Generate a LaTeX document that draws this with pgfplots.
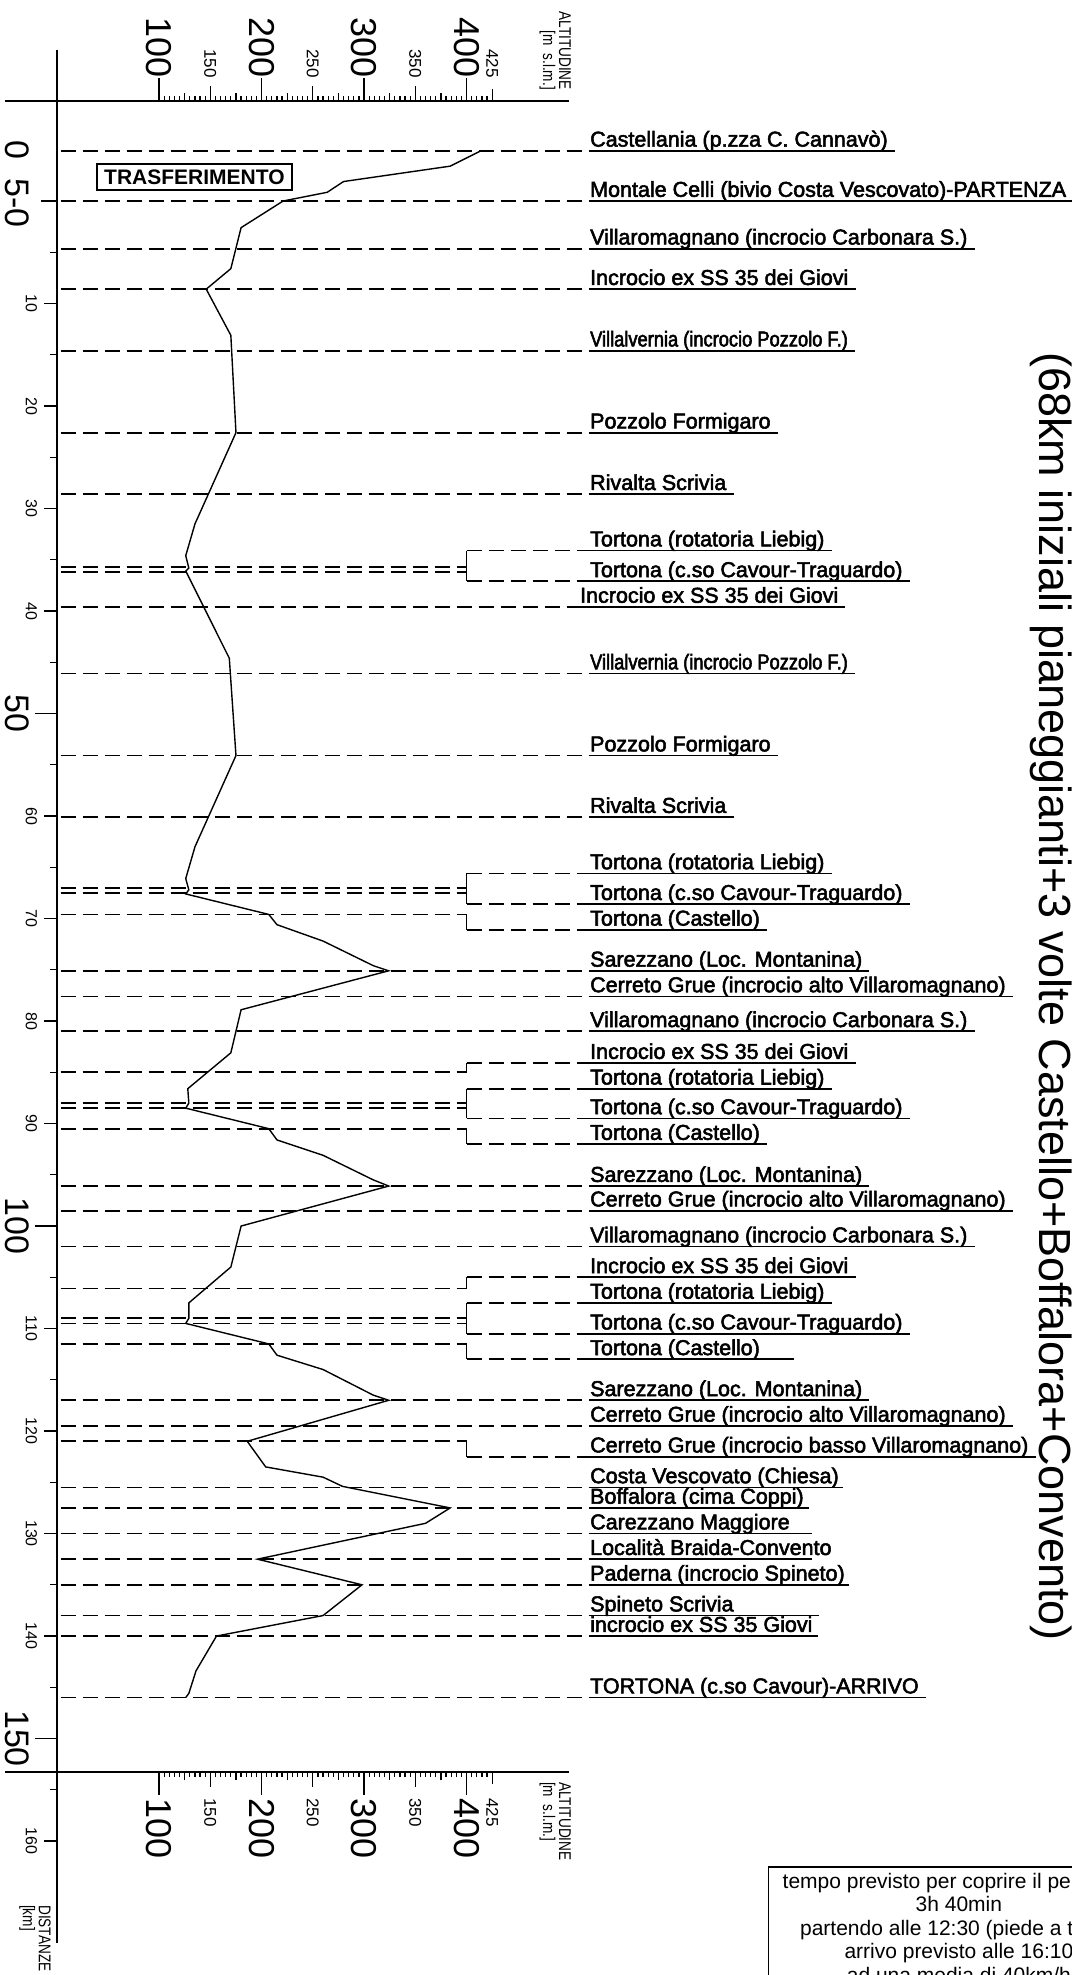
\documentclass[border=0pt]{standalone}
\usepackage{pgfplots}
\usepackage{pgfplotstable}
\pgfplotsset{compat=1.18}
\usepackage{fontspec}
\setmainfont{Liberation Sans}
\newfontfamily\labf[FakeBold=2.5]{Liberation Sans}
\newfontfamily\narrow[FakeStretch=0.85,FakeBold=2.5]{Liberation Sans}
\newfontfamily\axnarrow[FakeStretch=0.8]{Liberation Sans}

% profile: distance [km] and altitude [m s.l.m.]
\pgfplotstableread{
d alt
-4.9 414
-3.4 384
-1.9 280
-0.85 264
0 221
2.6 180
6.6 170
8.6 146
13.1 170
22.6 175
31.5 135
34.6 126
35.8 129
36.1 126
44.6 168.5
54.1 175
63.0 135
66.1 126
67.2 129
67.6 126
69.6 207
70.6 215
72.2 260
74.6 309
75.1 324
78.9 180
83.1 170
86.6 128
88.0 129
88.5 126
90.5 207
91.6 215
93.1 260
95.5 309
96.1 324
100.0 180
104.0 170
107.5 129
109.0 129
109.5 126
111.5 207
112.6 215
114.0 260
116.5 309
117.0 324
121.0 186
123.5 204
124.5 260
125.4 279
127.5 384
129.0 360
132.5 196
135.0 298
138.0 260
140.0 156
143.4 136
145.6 129
146.0 126
}\profile

\tikzset{
  dl/.style={line width=1.8pt, dash pattern=on 15pt off 7pt},
  br/.style={line width=1.3pt},
  tk/.style={line width=1.3pt},
  ax/.style={line width=2pt},
  ul/.style={line width=1.8pt},
  lab/.style={anchor=south west, inner sep=0pt, text depth=4pt,
    font=\labf\fontsize{21.5}{24}\selectfont},
  bigalt/.style={rotate=-90, inner sep=0pt, font=\fontsize{36}{36}\selectfont},
  smallalt/.style={rotate=-90, inner sep=0pt, font=\fontsize{17}{17}\selectfont},
  bigkm/.style={rotate=-90, inner sep=0pt, font=\fontsize{34}{34}\selectfont},
  smallkm/.style={rotate=-90, inner sep=0pt, font=\fontsize{16}{16}\selectfont},
  axname/.style={rotate=-90, inner sep=0pt, font=\axnarrow\fontsize{17}{16}\selectfont},
}

% \lab[extra underline]{from alt}{label alt}{km}{text}
\newcommand\lab[5][7pt]{%
  \addplot[dl] coordinates {(#2,#4) (#3,#4)};
  \node[lab] (L) at (axis cs:#3,#4) {#5};
  \draw[ul] (L.south west) -- ([xshift=#1]L.south east);
}
% ticks: \tkv{alt}{km}{length} vertical, \tkh{alt}{km}{length} horizontal
\newcommand\tkv[3]{\draw[tk] (axis cs:#1,#2) -- ([yshift=#3]axis cs:#1,#2);}
\newcommand\tkh[3]{\draw[tk] (axis cs:#1,#2) -- ([xshift=#3]axis cs:#1,#2);}

\begin{document}
\begin{tikzpicture}
\begin{axis}[
  width=1072pt, height=1975pt, scale only axis,
  xmin=-55.22, xmax=990.63,
  ymin=-19.61, ymax=173.07,
  y dir=reverse,
  hide axis, clip=false,
]
% axis lines
\draw[ax] (axis cs:-50,-9.795) -- (axis cs:500,-9.795);
\draw[ax] (axis cs:-50,153.24) -- (axis cs:500,153.24);
\draw[ax] (axis cs:0,-14.7) -- (axis cs:0,169.9);

% altitude scale, top
\pgfplotsinvokeforeach{100,105,...,425}{\tkv{#1}{-9.795}{5pt}}
\pgfplotsinvokeforeach{125,175,...,425}{\tkv{#1}{-9.795}{8pt}}
\pgfplotsinvokeforeach{150,250,350}{\tkv{#1}{-9.795}{15pt}}
\pgfplotsinvokeforeach{100,200,300,400}{\tkv{#1}{-9.795}{23pt}}
\tkv{425}{-9.795}{12pt}
\pgfplotsinvokeforeach{100,200,300,400}{\node[bigalt, anchor=east] at (axis cs:#1,-12.0) {#1};}
\pgfplotsinvokeforeach{150,250,350,425}{\node[smallalt, anchor=east] at (axis cs:#1,-12.0) {#1};}
\node[axname, anchor=north east, align=right] at (axis cs:501.9,-10.83) {ALTITUDINE\\{[}m\ \ s.l.m.]};

% altitude scale, bottom
\pgfplotsinvokeforeach{100,105,...,425}{\tkv{#1}{153.24}{-5pt}}
\pgfplotsinvokeforeach{125,175,...,425}{\tkv{#1}{153.24}{-8pt}}
\pgfplotsinvokeforeach{150,250,350}{\tkv{#1}{153.24}{-15pt}}
\pgfplotsinvokeforeach{100,200,300,400}{\tkv{#1}{153.24}{-23pt}}
\tkv{425}{153.24}{-12pt}
\pgfplotsinvokeforeach{100,200,300,400}{\node[bigalt, anchor=west] at (axis cs:#1,155.8) {#1};}
\pgfplotsinvokeforeach{150,250,350,425}{\node[smallalt, anchor=west] at (axis cs:#1,155.8) {#1};}
\node[axname, anchor=north west, align=left] at (axis cs:501.9,154.24) {ALTITUDINE\\{[}m\ \ s.l.m.]};

% distance scale
\pgfplotsinvokeforeach{5,15,...,155}{\tkh{0}{#1}{-7pt}}
\pgfplotsinvokeforeach{10,20,30,40,60,70,80,90,110,120,130,140,160}{%
  \tkh{0}{#1}{-13pt}
  \node[smallkm] at (axis cs:-24.5,#1) {#1};}
\pgfplotsinvokeforeach{50,100,150}{%
  \tkh{0}{#1}{-22pt}
  \node[bigkm] at (axis cs:-38.7,#1) {#1};}
\tkh{0}{0}{-16pt}
\node[bigkm] at (axis cs:-38.7,-5) {0};
\node[bigkm] at (axis cs:-38.7,0.2) {5-0};
\node[axname, anchor=north west, align=left] at (axis cs:-5.5,166.24) {DISTANZE\\{[}km]};

% profile
\addplot[black, line width=1.4pt, mark=none] table[x=alt, y=d] {\profile};

% places
\lab{4}{520.4}{-4.9}{Castellania (p.zza C. Cannavò)}
\lab{4}{520.4}{0}{Montale Celli (bivio Costa Vescovato)-PARTENZA}
\lab{4}{520.4}{4.65}{Villaromagnano (incrocio Carbonara S.)}
\lab{4}{520.4}{8.6}{Incrocio ex SS 35 dei Giovi}
\lab{4}{520.4}{14.6}{\narrow Villalvernia (incrocio Pozzolo F.)}
\lab{4}{520.4}{22.6}{Pozzolo Formigaro}
\lab{4}{520.4}{28.6}{Rivalta Scrivia}

\addplot[dl] coordinates {(4,35.7) (400,35.7)};
\addplot[dl] coordinates {(4,36.2) (400,36.2)};
\addplot[br] coordinates {(400,34.1) (400,37.1)};
\lab{400}{520.4}{34.1}{Tortona (rotatoria Liebig)}
\lab{400}{520.4}{37.1}{Tortona (c.so Cavour-Traguardo)}
\lab{4}{510.6}{39.6}{Incrocio ex SS 35 dei Giovi}
\lab{4}{520.4}{46.1}{\narrow Villalvernia (incrocio Pozzolo F.)}
\lab{4}{520.4}{54.1}{Pozzolo Formigaro}
\lab{4}{520.4}{60.1}{Rivalta Scrivia}

\addplot[dl] coordinates {(4,67.0) (400,67.0)};
\addplot[dl] coordinates {(4,67.5) (400,67.5)};
\addplot[br] coordinates {(400,65.6) (400,68.6)};
\lab{400}{520.4}{65.6}{Tortona (rotatoria Liebig)}
\lab{400}{520.4}{68.6}{Tortona (c.so Cavour-Traguardo)}
\addplot[dl] coordinates {(4,69.6) (400,69.6)};
\addplot[br] coordinates {(400,69.6) (400,71.1)};
\lab{400}{520.4}{71.1}{Tortona (Castello)}
\lab{4}{520.4}{75.1}{Sarezzano (Loc. Montanina)}
\lab{4}{520.4}{77.6}{Cerreto Grue (incrocio alto Villaromagnano)}
\lab{4}{520.4}{81.0}{Villaromagnano (incrocio Carbonara S.)}

\addplot[dl] coordinates {(4,85.0) (400,85.0)};
\addplot[br] coordinates {(400,85.0) (400,84.1)};
\lab{400}{520.4}{84.1}{Incrocio ex SS 35 dei Giovi}
\addplot[dl] coordinates {(4,88.0) (400,88.0)};
\addplot[dl] coordinates {(4,88.5) (400,88.5)};
\addplot[br] coordinates {(400,86.6) (400,89.5)};
\lab{400}{520.4}{86.6}{Tortona (rotatoria Liebig)}
\lab{400}{520.4}{89.5}{Tortona (c.so Cavour-Traguardo)}
\addplot[dl] coordinates {(4,90.5) (400,90.5)};
\addplot[br] coordinates {(400,90.5) (400,92.0)};
\lab{400}{520.4}{92.0}{Tortona (Castello)}
\lab{4}{520.4}{96.1}{Sarezzano (Loc. Montanina)}
\lab{4}{520.4}{98.5}{Cerreto Grue (incrocio alto Villaromagnano)}
\lab{4}{520.4}{102.0}{Villaromagnano (incrocio Carbonara S.)}

\addplot[dl] coordinates {(4,106.1) (400,106.1)};
\addplot[br] coordinates {(400,106.1) (400,105.0)};
\lab{400}{520.4}{105.0}{Incrocio ex SS 35 dei Giovi}
\addplot[dl] coordinates {(4,109.0) (400,109.0)};
\addplot[dl] coordinates {(4,109.5) (400,109.5)};
\addplot[br] coordinates {(400,107.5) (400,110.5)};
\lab{400}{520.4}{107.5}{Tortona (rotatoria Liebig)}
\lab{400}{520.4}{110.5}{Tortona (c.so Cavour-Traguardo)}
\addplot[dl] coordinates {(4,111.5) (400,111.5)};
\addplot[br] coordinates {(400,111.5) (400,113.0)};
\lab[34pt]{400}{520.4}{113.0}{Tortona (Castello)}
\lab{4}{520.4}{117.0}{Sarezzano (Loc. Montanina)}
\lab{4}{520.4}{119.5}{Cerreto Grue (incrocio alto Villaromagnano)}
\addplot[dl] coordinates {(4,121.0) (400,121.0)};
\addplot[br] coordinates {(400,121.0) (400,122.5)};
\lab{400}{520.4}{122.5}{Cerreto Grue (incrocio basso Villaromagnano)}
\lab[4pt]{4}{520.4}{125.5}{Costa Vescovato (Chiesa)}
\lab[5pt]{4}{520.4}{127.5}{Boffalora (cima Coppi)}
\lab[22pt]{4}{520.4}{130.0}{Carezzano Maggiore}
\lab[-20pt]{4}{520.4}{132.5}{Località Braida-Convento}
\lab[4pt]{4}{520.4}{135.0}{Paderna (incrocio Spineto)}
\lab[85pt]{4}{520.4}{138.0}{Spineto Scrivia}
\lab[5pt]{4}{520.4}{140.0}{incrocio ex SS 35 Giovi}
\lab{4}{520.4}{146.0}{TORTONA (c.so Cavour)-ARRIVO}

% transfer box
\node[draw, line width=1.3pt, inner sep=0pt, minimum width=195pt, minimum height=26pt,
  font=\bfseries\fontsize{21}{21}\selectfont] at (axis cs:134.5,-2.34) {TRASFERIMENTO};

% title
\node[rotate=-90, anchor=base west, inner sep=0pt, font=\fontsize{45}{45}\selectfont]
  at (axis cs:959.4,14.73) {(68km iniziali pianeggianti+3 volte Castello+Boffalora+Convento)};

% time box
\node[draw, line width=1.5pt, anchor=north west, align=center, inner xsep=14pt, inner ysep=6pt,
  font=\fontsize{21}{23.5}\selectfont] at (axis cs:694,162.44)
  {tempo previsto per coprire il percorso:\\3h 40min\\partendo alle 12:30 (piede a terra)\\arrivo previsto alle 16:10\\ad una media di 40km/h};
\end{axis}
\pgfresetboundingbox
\path (current axis.south west) rectangle (current axis.north east);
\end{tikzpicture}
\end{document}
